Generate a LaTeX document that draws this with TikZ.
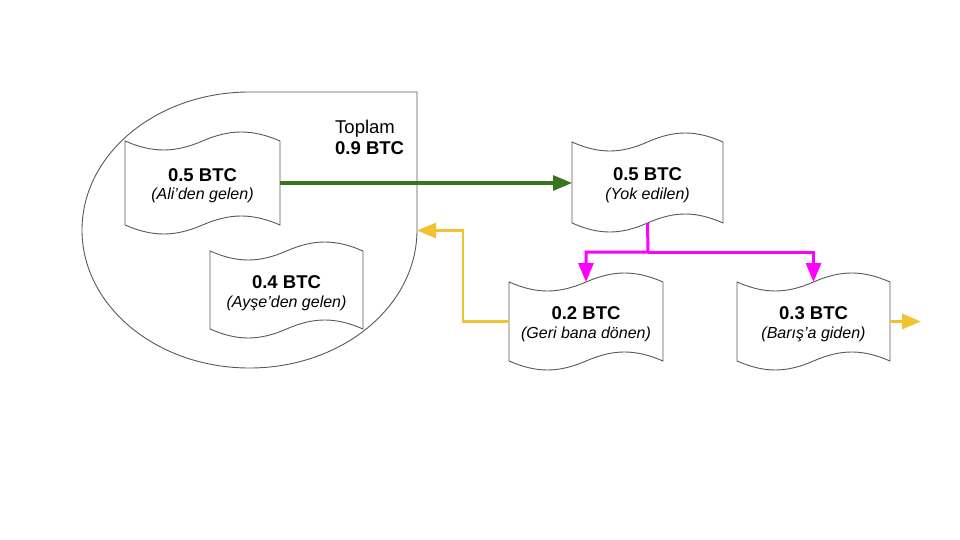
\documentclass[tikz,border=0pt]{standalone}
\usepackage{fontspec}
\setmainfont{Liberation Sans}
\usetikzlibrary{arrows.meta}
\definecolor{outline}{HTML}{595959}
\definecolor{grn}{HTML}{38761D}
\definecolor{mag}{HTML}{FF00FF}
\definecolor{orn}{HTML}{F1C232}
% screen coordinates: y grows downwards
\newcommand\tapeshape[5]{%
  \pgfmathsetmacro\tw{#4-#2}%
  \pgfmathsetmacro\tc{12}% control offset (4/3 of amplitude 9)
  \draw[tapeline] (#2,#3)
    .. controls ({#2+0.18*\tw},{#3+\tc}) and ({#2+0.32*\tw},{#3+\tc}) .. ({#2+0.5*\tw},#3)
    .. controls ({#2+0.68*\tw},{#3-\tc}) and ({#2+0.82*\tw},{#3-\tc}) .. (#4,#3)
    -- (#4,#5)
    .. controls ({#2+0.82*\tw},{#5-\tc}) and ({#2+0.68*\tw},{#5-\tc}) .. ({#2+0.5*\tw},#5)
    .. controls ({#2+0.32*\tw},{#5+\tc}) and ({#2+0.18*\tw},{#5+\tc}) .. (#2,#5)
    -- cycle;
  \node[anchorbox, minimum width={(#4-#2)*1pt}, minimum height={(#5-#3)*1pt}] (#1)
    at ({(#2+#4)/2},{(#3+#5)/2}) {};
}
\newcommand\tapetext[3]{%
  \node[boldtxt, anchor=base, yshift=1.7pt] (#1b) at (#1.center) {#2};
  \node[italtxt, anchor=base, yshift=-17pt] (#1i) at (#1.center) {#3};
}
\begin{document}
\begin{tikzpicture}[x=1pt,y=-1pt,
  tapeline/.style={draw=outline, line width=0.9pt, fill=white},
  anchorbox/.style={inner sep=0pt, outer sep=0pt, draw=none},
  boldtxt/.style={font=\fontsize{18.5}{22}\selectfont\bfseries, inner sep=0pt},
  italtxt/.style={font=\fontsize{16}{19}\selectfont\itshape, inner sep=0pt},
  plaintxt/.style={font=\fontsize{18.5}{22}\selectfont, inner sep=0pt},
  conn/.style={line width=3pt, -{Triangle[length=19pt,width=15pt]}},
  grnarrow/.style={conn, draw=grn},
  magarrow/.style={conn, draw=mag},
  ornarrow/.style={conn, draw=orn, line width=2.7pt},
]
\fill[white] (0,0) rectangle (960,540);
\useasboundingbox (0,0) rectangle (960,540);

% big teardrop container
\draw[draw=outline, line width=0.9pt]
  (82,230) arc[start angle=180, end angle=270, x radius=167.5, y radius=138]
  -- (417,92) -- (417,230)
  arc[start angle=0, end angle=180, x radius=167.5, y radius=138] -- cycle;
\coordinate (bigE) at (417,230.5);

\node[plaintxt, anchor=base west] (toplam) at (335,133.3) {Toplam};
\node[boldtxt, anchor=base west] (total) at (335,155) {0.9 BTC};

\tapeshape{s1}{125}{141}{280}{225}
\tapetext{s1}{0.5 BTC}{(Ali’den gelen)}
\tapeshape{s2}{210}{251}{363}{329}
\tapetext{s2}{0.4 BTC}{(Ayşe’den gelen)}
\tapeshape{s3}{572}{142}{723}{223}
\tapetext{s3}{0.5 BTC}{(Yok edilen)}
\tapeshape{s4}{509}{282}{663}{361}
\tapetext{s4}{0.2 BTC}{(Geri bana dönen)}
\tapeshape{s5}{737}{282}{890}{361}
\tapetext{s5}{0.3 BTC}{(Barış’a giden)}

% connectors
\draw[grnarrow] (s1.east) -- (s1.east -| s3.west);
\coordinate (split) at (648,252);
\draw[magarrow] (s3.south) -- (split) -| (s4.north);
\draw[magarrow] (split) -| (s5.north);
\coordinate (orbend) at (463,230.5);
\draw[ornarrow] (s4.west) -| (orbend) -- (bigE);
\coordinate (outend) at (921,321.5);
\draw[ornarrow] (s5.east) -- (outend);
\end{tikzpicture}
\end{document}
